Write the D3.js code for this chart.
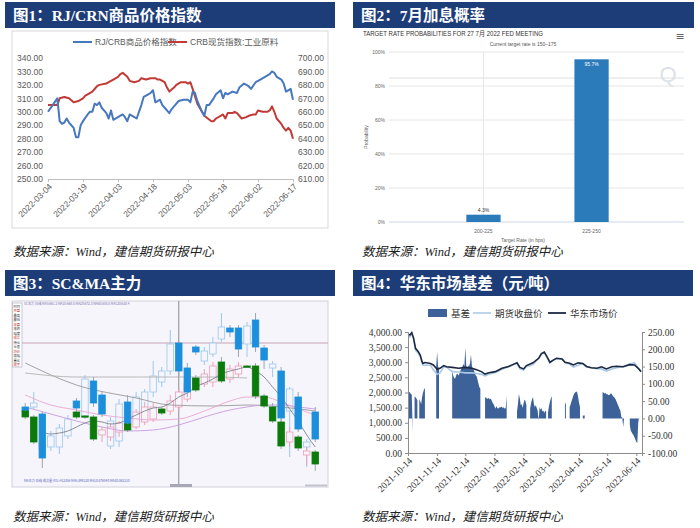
<!DOCTYPE html>
<html>
<head>
<meta charset="utf-8">
<script src="https://cdn.jsdelivr.net/npm/d3@7"></script>
<style>
body { margin: 0; background: #fff; }
svg { display: block; }
</style>
</head>
<body>
<svg width="700" height="528"></svg>
<script>
// ---------- data ----------
// fig 1: days since 2022-03-04
var rjDays = [0,2,4,5,6,7,8,9,10,11,12,13,14,15,17,18,19,20,21,22,23,24,25,26,27,28,30,32,33,34,35,37,38,40,41,43,44,45,46,47,48,49,50,52,53,54,56,58,60,61,62,63,64,66,67,68,69,71,72,74,75,76,77,79,81,82,84,86,87,89,91,93,95,96,97,98,100,101,102,103,104,105];
var rjValues = [300,305,310,293,291,292,295,292,290,288,281,281,290,293,298,300,300,306,305,307,303,301,299,295,301,294,296,298,296,293,298,296,295,305,311,313,314,316,307,308,309,305,303,299,302,304,308,309,309,307,315,314,308,300,297,305,305,310,313,316,310,314,313,315,314,318,321,319,317,322,324,326,328,330,329,326,324,321,315,316,317,309];
var crbDays = [0,4,5,7,9,11,13,15,16,17,19,21,22,25,26,28,30,31,32,34,35,37,39,40,42,44,46,47,48,50,51,52,54,55,57,59,60,61,62,64,65,66,67,70,71,72,74,75,76,77,79,80,81,83,85,86,88,89,90,92,94,95,96,97,98,100,101,102,103,104,105];
var crbValues = [665,665,670,671,670,667,668,670,672,673,675,679,680,681,682,684,686,688,689,686,683,682,683,685,684,685,685,684,684,682,678,675,678,680,682,682,681,682,677,666,663,660,657,653,653,655,657,658,655,659,659,660,659,655,656,657,658,658,661,660,660,661,664,660,655,651,648,646,648,646,640];
var fig1Ticks = ["2022-03-04","2022-03-19","2022-04-03","2022-04-18","2022-05-03","2022-05-18","2022-06-02","2022-06-17"];

// fig 2
var rateCats = ["200-225", "225-250"];
var rateProbs = [4.3, 95.7];

// fig 3: candles by slot (SC and MA main contracts), values in chart points
var scSlot  = [0,1,2,3,4,5,6,7,8,9,10,11,12,13,14,15,16,17,18,19,20,21,22,23,24,25,26,27,28,29,30,31,32,33,34];
var scOpen  = [80,80,73,40,40,51,86,71,106,92,41,46,85,66,76,95,105,116,144,119,140,126,133,148,159,159,143,167,139,119,116,76,90,40,75];
var scHigh  = [84,95,75,56,63,72,89,112,110,96,70,88,92,95,98,126,120,157,146,124,142,140,150,174,162,162,165,174,142,126,120,100,95,48,80];
var scLow   = [75,78,19,36,33,48,77,68,80,70,38,40,60,60,72,90,100,112,110,90,132,122,130,145,150,130,130,135,118,110,60,30,55,20,45];
var scClose = [76,84,29,51,59,68,79,108,84,73,66,83,63,90,95,111,116,143,116,95,135,136,144,160,155,138,161,140,127,123,69,98,58,45,48];
var maSlot  = [0,1,2,6,7,8,9,10,11,12,13,14,15,16,17,18,19,20,21,22,23,24,25,26,27,28,29,30,31,32,33,34];
var maOpen  = [76,70,38,75,71,70,52,50,55,63,60,65,68,78,76,80,88,109,103,105,125,108,113,121,121,91,80,65,45,50,32,35];
var maHigh  = [77,72,47,77,72,72,60,64,66,64,78,85,84,80,92,98,108,112,118,125,130,122,125,122,124,93,84,68,60,52,40,37];
var maLow   = [68,43,30,68,70,46,45,46,50,55,58,62,65,72,72,76,85,95,100,100,104,104,110,120,88,79,64,38,40,36,22,16];
var maClose = [70,45,44,70,70.5,48,57,60,64,57,75,80,80,74,86,95,104,97,113,121,106,118,121,120.5,91,81,66,41,55,39,36,23];
// moving averages (slot, value)
var avgShortSlot = [2,3,4,5,6,7,8,9,10,11,12,13,14,15,16,17,18,19,20,21,22,23,24,25,26,27,28,29,30,31,32,33,34];
var avgShort     = [55,53,54,56,60,64,66,65,63,64,68,72,76,79,80,84,90,94,100,104,108,113,116,118,120,116,110,100,90,78,66,52,40];
var avgPinkSlot  = [0,3,6,9,12,15,18,21,24,26,28,30,32,34];
var avgPink      = [92,82,77,72,69,67,68,76,86,90,90,85,78,72];
var avgVioSlot   = [0,3,6,9,12,15,18,21,24,26,28,30,32,34];
var avgViolet    = [80,73,66,60,56,57,62,70,77,80,82,82,80,78];
var avgGraySlot  = [0,6,13,17,22,26,30,34];
var avgGray      = [124,102,89,82,81,82,80,76];
var avgFlatSlot  = [0,6,13,17,22,26];
var avgFlat      = [114,110,110,110,110,109];

// fig 4: days since 2021-10-14
var priceDays = [0,2,4,6,8,11,13,15,16,18,24,27,31,34,38,41,47,54,61,68,73,78,82,86,93,100,107,112,116,119,123,126,133,139,142,145,148,151,155,158,164,167,172,176,181,186,190,195,201,206,211,217,222,229,236,241,245,248];
var marketPrice = [3930,3900,3980,3790,3460,3350,3240,3020,2960,2990,2960,2910,2770,2800,2890,2850,2830,2800,2830,2800,2750,2690,2610,2650,2690,2800,2860,2930,2980,2830,2780,2890,2980,3130,3290,3340,3180,3000,3080,3130,3110,3000,2970,2910,2980,2960,2860,2820,2800,2850,2780,2850,2870,2850,2920,2910,2800,2690];
var futuresPrice = [3850,3830,3950,3760,3400,3290,3190,2960,2900,2900,2900,2750,2600,2650,2850,2840,2690,2680,2650,2650,2630,2600,2550,2600,2660,2770,2850,2920,2970,2780,2740,2850,2920,3130,3260,3320,3160,2980,3080,3120,3100,2990,2940,2840,2900,2950,2850,2820,2790,2780,2710,2780,2820,2850,2950,2980,2810,2690];
var basisDays = [0,1,2,3,4,5,6,7,8,9,10,11,12,13,14,15,16,17,18,19,25,26,27,29,30,31,32,33,34,
  46,47,48,49,50,51,52,53,54,55,56,57,58,59,60,61,62,63,64,65,66,67,68,69,70,71,72,73,74,75,76,77,78,
  81,82,83,84,85,86,87,88,89,90,91,92,93,94,95,96,97,98,99,100,101,102,103,104,105,106,
  115,116,117,118,119,120,121,122,123,124,125,126,127,
  129,130,131,132,133,134,135,136,137,138,139,140,141,142,143,144,145,146,147,148,149,150,151,152,153,154,
  166,167,168,169,171,172,173,174,175,176,177,178,179,180,181,182,183,184,185,186,187,188,189,
  202,203,204,206,207,208,209,210,211,212,213,214,215,216,217,218,219,220,221,222,223,224,225,226,227,228,229,230,231,
  235,236,237,238,239,240,241,242,243,244,245,246];
var basisValues = [78,77,75,71,69,-42,null,64,61,58,52,null,56,50,42,62,75,84,88,null,null,170,null,null,150,192,150,145,null,
  null,139,125,118,115,122,130,128,124,132,140,146,150,158,150,205,152,145,153,150,160,185,152,144,140,132,125,122,112,100,90,86,null,
  null,62,60,58,57,60,55,58,52,45,42,35,28,36,30,28,32,31,34,33,30,32,28,30,67,null,
  null,20,42,71,58,38,42,30,44,55,50,38,null,
  null,28,45,55,62,42,33,38,30,22,-6,33,25,30,20,23,16,22,20,null,18,35,48,58,64,null,
  null,47,40,null,null,33,40,50,58,66,72,76,78,76,62,45,33,null,null,9,8,9,null,
  null,79,null,null,76,75,72,74,70,71,68,67,70,73,70,65,62,60,55,48,42,35,28,23,4,3,-25,2,null,
  null,-18,-35,-40,-45,-49,-55,-62,-68,-71,-12,4];
var fig4Ticks = ["2021-10-14","2021-11-14","2021-12-14","2022-01-14","2022-02-14","2022-03-14","2022-04-14","2022-05-14","2022-06-14"];

// ---------- common ----------
var svg = d3.select("svg");
var parse = d3.timeParse("%Y-%m-%d");
var fmtDate = d3.timeFormat("%Y-%m-%d");
var titleFont = "'Liberation Serif', 'Noto Sans CJK SC', serif";
var cjk = "'Noto Sans CJK SC', sans-serif";
var sans = "'Liberation Sans', 'Noto Sans CJK SC', sans-serif";
var serif = "'Liberation Serif', 'Noto Sans CJK SC', serif";

function titleBar(x, y, w, label) {
    svg.append("rect").attr("x", x).attr("y", y).attr("width", w).attr("height", 26)
        .attr("fill", "#1d3d78");
    svg.append("text").attr("x", x + 8).attr("y", y + 19)
        .attr("fill", "#fff").attr("font-family", titleFont).attr("font-weight", "bold")
        .attr("font-size", 15.5).text(label);
}
function source(x, y) {
    svg.append("text").attr("x", x).attr("y", y)
        .attr("font-family", serif).attr("font-style", "italic")
        .attr("font-size", 12.5).attr("fill", "#222")
        .text("数据来源：Wind，建信期货研报中心");
}
function rotateLabels(g, dx, dy) {
    g.selectAll(".tick text")
        .attr("x", 0).attr("y", 0).attr("dy", "0.35em")
        .attr("transform", "translate(" + dx + "," + dy + ") rotate(-45)")
        .style("text-anchor", "end");
}

// ---------- fig 1 ----------
titleBar(5, 2, 330, "图1：RJ/CRN商品价格指数");
svg.append("rect").attr("x", 12).attr("y", 31).attr("width", 316).attr("height", 197)
    .attr("fill", "#fff").attr("stroke", "#d9d9d9");

var base1 = parse("2022-03-04");
var x1 = d3.scaleTime().domain([base1, parse("2022-06-17")]).range([48, 293]);
var y1L = d3.scaleLinear().domain([250, 340]).range([179, 58]);
var y1R = d3.scaleLinear().domain([610, 700]).range([179, 58]);

var g1L = svg.append("g").attr("transform", "translate(46,0)")
    .call(d3.axisLeft(y1L).tickValues(d3.range(250, 341, 10)).tickFormat(d3.format(".2f")).tickSize(0));
var g1R = svg.append("g").attr("transform", "translate(295,0)")
    .call(d3.axisRight(y1R).tickValues(d3.range(610, 701, 10)).tickFormat(d3.format(".2f")).tickSize(0));
var g1X = svg.append("g").attr("transform", "translate(0,179)")
    .call(d3.axisBottom(x1).tickValues(fig1Ticks.map(parse)).tickFormat(fmtDate).tickSize(3));
[g1L, g1R, g1X].forEach(function (g) {
    g.selectAll("text").attr("font-family", sans).attr("font-size", 8.5).attr("fill", "#595959");
});
g1L.select(".domain").remove();
g1R.select(".domain").remove();
g1X.selectAll("line,path").attr("stroke", "#bfbfbf");
rotateLabels(g1X, 2, 6);

var line1L = d3.line().x(function (d) { return x1(d3.timeDay.offset(base1, d[0])); }).y(function (d) { return y1L(d[1]); });
var line1R = d3.line().x(function (d) { return x1(d3.timeDay.offset(base1, d[0])); }).y(function (d) { return y1R(d[1]); });
svg.append("path").datum(d3.zip(crbDays, crbValues)).attr("d", line1R)
    .attr("fill", "none").attr("stroke", "#c23a36").attr("stroke-width", 2).attr("stroke-linejoin", "round");
svg.append("path").datum(d3.zip(rjDays, rjValues)).attr("d", line1L)
    .attr("fill", "none").attr("stroke", "#4677bf").attr("stroke-width", 2).attr("stroke-linejoin", "round");

var leg1 = [["RJ/CRB商品价格指数", "#4677bf", 73], ["CRB现货指数:工业原料", "#c23a36", 168]];
leg1.forEach(function (l) {
    svg.append("line").attr("x1", l[2]).attr("x2", l[2] + 19).attr("y1", 42).attr("y2", 42)
        .attr("stroke", l[1]).attr("stroke-width", 2);
    svg.append("text").attr("x", l[2] + 22).attr("y", 45).attr("font-family", sans)
        .attr("font-size", 8.5).attr("fill", "#595959").text(l[0]);
});
source(13, 256);

// ---------- fig 2 ----------
titleBar(353, 2, 341, "图2：7月加息概率");
var x2 = d3.scaleBand().domain(rateCats).range([392.5, 682.5]).padding(0.683);
var y2 = d3.scaleLinear().domain([0, 100]).range([222, 52]);
svg.append("text").attr("x", 363).attr("y", 36).attr("font-family", sans).attr("font-size", 7)
    .attr("fill", "#333").attr("textLength", 180).attr("lengthAdjust", "spacingAndGlyphs")
    .text("TARGET RATE PROBABILITIES FOR 27 7月 2022 FED MEETING");
svg.append("text").attr("x", 523).attr("y", 46).attr("text-anchor", "middle").attr("font-family", sans)
    .attr("font-size", 5).attr("fill", "#555").text("Current target rate is 150–175");
svg.append("text").attr("x", 680).attr("y", 40).attr("text-anchor", "middle").attr("font-family", "DejaVu Sans")
    .attr("font-size", 11).attr("fill", "#666").text("≡");
svg.append("text").attr("x", 668).attr("y", 82).attr("text-anchor", "middle").attr("font-family", sans)
    .attr("font-size", 22).attr("fill", "#dde2e8").text("Q");

var grid2 = svg.append("g");
y2.ticks(5).forEach(function (t) {
    grid2.append("line").attr("x1", 389).attr("x2", 684).attr("y1", y2(t)).attr("y2", y2(t))
        .attr("stroke", t === 0 ? "#ccd6eb" : "#e6e6e6");
    grid2.append("text").attr("x", 385).attr("y", y2(t) + 2).attr("text-anchor", "end")
        .attr("font-family", sans).attr("font-size", 5).attr("fill", "#666").text(t + "%");
});
grid2.append("line").attr("x1", 389).attr("x2", 684).attr("y1", y2(84.7)).attr("y2", y2(84.7)).attr("stroke", "#dedede");
grid2.append("line").attr("x1", x2(rateCats[0]) + x2.bandwidth() / 2).attr("x2", x2(rateCats[0]) + x2.bandwidth() / 2)
    .attr("y1", 52).attr("y2", 222).attr("stroke", "#e6e6e6");

svg.selectAll(".bar2").data(rateProbs).enter().append("rect")
    .attr("x", function (d, i) { return x2(rateCats[i]); })
    .attr("y", function (d) { return y2(d); })
    .attr("width", x2.bandwidth())
    .attr("height", function (d) { return y2(0) - y2(d); })
    .attr("fill", "#2b7bba");
svg.selectAll(".lab2").data(rateProbs).enter().append("text")
    .attr("x", function (d, i) { return x2(rateCats[i]) + x2.bandwidth() / 2; })
    .attr("y", function (d) { return d > 50 ? y2(d) + 7 : y2(d) - 3; })
    .attr("text-anchor", "middle").attr("font-family", sans).attr("font-size", 5)
    .attr("fill", function (d) { return d > 50 ? "#fff" : "#333"; })
    .text(function (d) { return d + "%"; });
rateCats.forEach(function (c) {
    svg.append("text").attr("x", x2(c) + x2.bandwidth() / 2).attr("y", 233).attr("text-anchor", "middle")
        .attr("font-family", sans).attr("font-size", 5).attr("fill", "#666").text(c);
});
svg.append("text").attr("x", 523).attr("y", 242).attr("text-anchor", "middle").attr("font-family", sans)
    .attr("font-size", 5).attr("fill", "#666").text("Target Rate (in bps)");
svg.append("text").attr("transform", "translate(368,137) rotate(-90)").attr("text-anchor", "middle")
    .attr("font-family", sans).attr("font-size", 5).attr("fill", "#666").text("Probability");
source(362, 256);

// ---------- fig 3 ----------
titleBar(5, 270, 330, "图3：SC&MA主力");
svg.append("rect").attr("x", 12).attr("y", 301).attr("width", 316).attr("height", 186)
    .attr("fill", "#f5f5fb").attr("stroke", "#d0d0dc");
var x3 = d3.scaleBand().domain(d3.range(35)).range([21.5, 319]).paddingInner(0.12);
var y3 = d3.scaleLinear().domain([0, 186]).range([487, 301]);
var cx3 = function (s) { return x3(s) + x3.bandwidth() / 2; };

// cross hair
svg.append("line").attr("x1", cx3(18)).attr("x2", cx3(18)).attr("y1", 301).attr("y2", 487).attr("stroke", "#8a8a95");
svg.append("line").attr("x1", 22).attr("x2", 328).attr("y1", y3(144)).attr("y2", y3(144)).attr("stroke", "#c9a3b6");

function candles(slot, o, h, l, c, downColor, upColor, hollowPass) {
    var data = slot.map(function (s, i) { return { s: s, o: o[i], h: h[i], l: l[i], c: c[i] }; })
        .filter(function (d) { return (d.c >= d.o) === hollowPass; });
    var g = svg.append("g");
    g.selectAll("line").data(data).enter().append("line")
        .attr("x1", function (d) { return cx3(d.s); }).attr("x2", function (d) { return cx3(d.s); })
        .attr("y1", function (d) { return y3(d.h); }).attr("y2", function (d) { return y3(d.l); })
        .attr("stroke", function (d) { return d.c >= d.o ? upColor : "#9aa6b2"; });
    g.selectAll("rect").data(data).enter().append("rect")
        .attr("x", function (d) { return x3(d.s) + 0.5; })
        .attr("width", x3.bandwidth() - 1)
        .attr("y", function (d) { return y3(Math.max(d.o, d.c)); })
        .attr("height", function (d) { return Math.max(1.2, Math.abs(y3(d.o) - y3(d.c))); })
        .attr("fill", function (d) { return d.c >= d.o ? "#f5f5fb" : downColor; })
        .attr("stroke", function (d) { return d.c >= d.o ? upColor : downColor; })
        .attr("stroke-width", 0.8);
}
candles(scSlot, scOpen, scHigh, scLow, scClose, "#1b8fdc", "#9cc8ea", true);
candles(maSlot, maOpen, maHigh, maLow, maClose, "#0b7a0b", "#ef9fb8", true);

var line3 = d3.line().x(function (d) { return cx3(d[0]); }).y(function (d) { return y3(d[1]); }).curve(d3.curveMonotoneX);
[[avgGraySlot, avgGray, "#9a9a9a"], [avgFlatSlot, avgFlat, "#b4b4b4"], [avgVioSlot, avgViolet, "#c79be0"],
 [avgPinkSlot, avgPink, "#eaa6cf"], [avgShortSlot, avgShort, "#7d8590"]].forEach(function (a) {
    svg.append("path").datum(d3.zip(a[0], a[1])).attr("d", line3)
        .attr("fill", "none").attr("stroke", a[2]).attr("stroke-width", 0.9);
});
candles(scSlot, scOpen, scHigh, scLow, scClose, "#1b8fdc", "#9cc8ea", false);
candles(maSlot, maOpen, maHigh, maLow, maClose, "#0b7a0b", "#ef9fb8", false);

// info column and tiny header / footer text
var info = ["时间", "开盘", "最高", "最低", "收盘", "涨跌", "幅度", "成交", "持仓", "仓差", "均价", "振幅", "量比", "现手"];
svg.append("rect").attr("x", 12.5).attr("y", 303).attr("width", 9.5).attr("height", 64)
    .attr("fill", "#fff").attr("stroke", "#9a9aa8").attr("stroke-width", 0.5);
info.forEach(function (t, i) {
    svg.append("text").attr("x", 13.5).attr("y", 307.5 + i * 4.5).attr("font-family", cjk)
        .attr("font-size", 3.3).attr("fill", i % 3 === 1 ? "#c0302a" : "#333").text(t);
});
svg.append("text").attr("x", 24).attr("y", 304.5).attr("font-family", cjk).attr("font-size", 3.2)
    .attr("fill", "#7a6fb0").text("SC主力 日线  MA5:661.2  MA10:668.5  MA20:672.3  MA60:655.8  MA120:610.4");
svg.append("text").attr("x", 24).attr("y", 482).attr("font-family", cjk).attr("font-size", 3.2)
    .attr("fill", "#5b63c0").text("MA主力 日线  成交量  VOL:412356  MA5:398120  MA10:376540  MA20:362210");
svg.append("rect").attr("x", 170).attr("y", 484).attr("width", 22).attr("height", 3).attr("fill", "#a8a8b4");
svg.append("rect").attr("x", 305).attr("y", 484.5).attr("width", 22).attr("height", 2).attr("fill", "#c4c4d0");
source(13, 521);

// ---------- fig 4 ----------
titleBar(353, 270, 340, "图4：华东市场基差（元/吨）");
var base4 = parse("2021-10-14");
var x4 = d3.scaleTime().domain([base4, parse("2022-06-20")]).range([408, 642]);
var y4L = d3.scaleLinear().domain([0, 4000]).range([453, 332]);
var y4R = d3.scaleLinear().domain([-100, 250]).range([453, 332]);

var area4 = d3.area()
    .defined(function (d) { return d[1] !== null; })
    .x(function (d) { return x4(d3.timeDay.offset(base4, d[0])); })
    .y0(y4R(0)).y1(function (d) { return y4R(d[1]); });
svg.append("path").datum(d3.zip(basisDays, basisValues)).attr("d", area4).attr("fill", "#3d6299");

var line4 = d3.line().x(function (d) { return x4(d3.timeDay.offset(base4, d[0])); }).y(function (d) { return y4L(d[1]); });
svg.append("path").datum(d3.zip(priceDays, futuresPrice)).attr("d", line4)
    .attr("fill", "none").attr("stroke", "#a9c8e6").attr("stroke-width", 1.6);
svg.append("path").datum(d3.zip(priceDays, marketPrice)).attr("d", line4)
    .attr("fill", "none").attr("stroke", "#1c2841").attr("stroke-width", 1.6);

var g4L = svg.append("g").attr("transform", "translate(408,0)")
    .call(d3.axisLeft(y4L).tickValues(d3.range(0, 4001, 500)).tickFormat(d3.format(",.2f")).tickSize(3));
var g4R = svg.append("g").attr("transform", "translate(642,0)")
    .call(d3.axisRight(y4R).tickValues(d3.range(-100, 251, 50)).tickFormat(d3.format(".2f")).tickSize(3));
var g4X = svg.append("g").attr("transform", "translate(0,453)")
    .call(d3.axisBottom(x4).tickValues(fig4Ticks.map(parse)).tickFormat(fmtDate).tickSize(3));
[g4L, g4R, g4X].forEach(function (g) {
    g.selectAll("text").attr("font-family", serif).attr("font-size", 9.5).attr("fill", "#333");
    g.selectAll("line,path").attr("stroke", "#8c8c8c");
});
g4R.selectAll("text").text(function (d) { return d3.format(".2f")(d).replace("−", "-"); });
rotateLabels(g4X, 2, 6);

svg.append("rect").attr("x", 428).attr("y", 309).attr("width", 19).attr("height", 8).attr("fill", "#3d6299");
svg.append("line").attr("x1", 473).attr("x2", 491).attr("y1", 313).attr("y2", 313).attr("stroke", "#a9c8e6").attr("stroke-width", 1.5);
svg.append("line").attr("x1", 548).attr("x2", 566).attr("y1", 313).attr("y2", 313).attr("stroke", "#1c2841").attr("stroke-width", 1.8);
[["基差", 451], ["期货收盘价", 495], ["华东市场价", 570]].forEach(function (l) {
    svg.append("text").attr("x", l[1]).attr("y", 317).attr("font-family", cjk)
        .attr("font-size", 9.5).attr("fill", "#333").text(l[0]);
});
source(362, 521);
</script>
</body>
</html>
